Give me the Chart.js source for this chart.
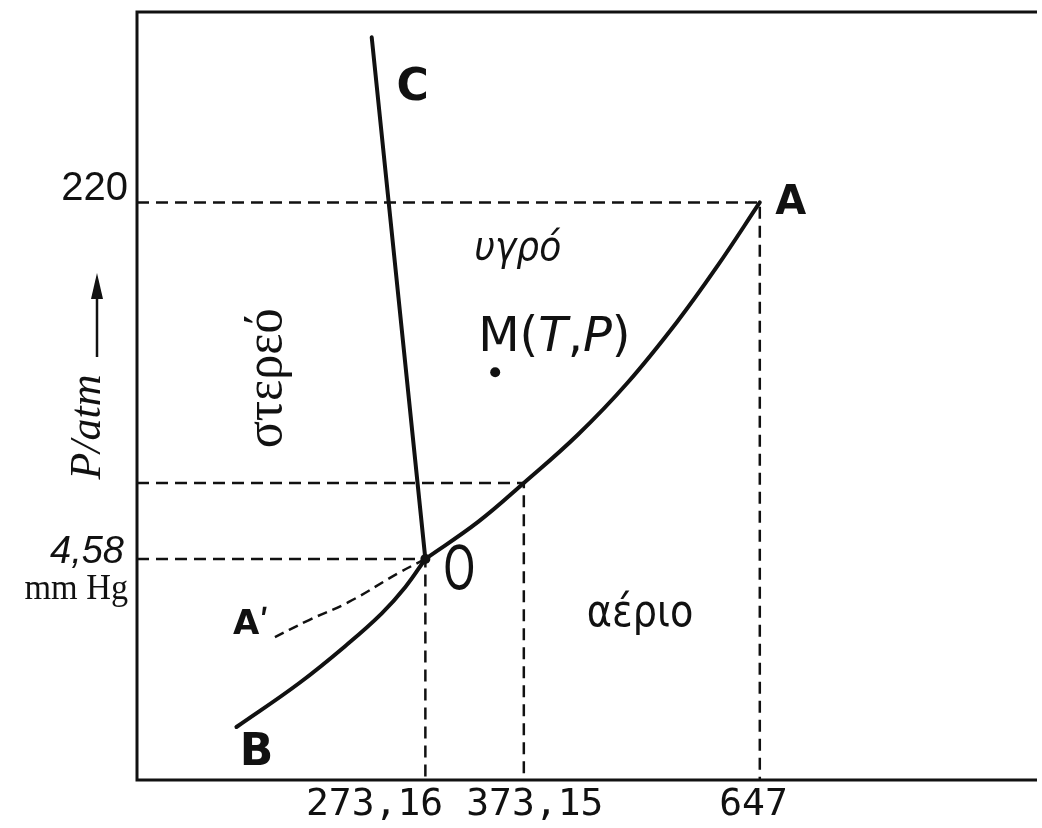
<!DOCTYPE html>
<html>
<head>
<meta charset="utf-8">
<title>Διάγραμμα φάσεων νερού</title>
<script src="https://cdn.jsdelivr.net/npm/chart.js@4.4.1/dist/chart.umd.min.js"></script>
<style>
    html, body { margin: 0; padding: 0; background: #fff; }
    #phaseChart { display: block; background: #fff; }
</style>
</head>
<body>
<canvas id="phaseChart" width="1042" height="828"></canvas>
<script>
// ============================================================
//  Phase diagram data (schematic units, 0-100 on both axes)
// ============================================================

// B -> O : sublimation curve
const sublimT = [11.05, 18.0, 23.5, 27.2, 29.8, 32.04];
const sublimP = [6.9, 12.6, 17.8, 21.7, 25.1, 28.78];

// O -> A : vaporization curve
const vapourT = [32.04, 37.9, 42.98, 48.95, 54.48, 60.0, 64.42, 69.2];
const vapourP = [28.78, 33.6, 38.67, 44.92, 51.69, 59.64, 66.8, 75.2];

// O -> C : fusion line
const fusionT = [32.04, 26.08];
const fusionP = [28.78, 96.7];

// O -> A' : supercooled liquid (dashed)
const metaT = [32.04, 29.06, 23.54, 19.12, 14.7];
const metaP = [28.78, 26.95, 23.18, 20.83, 18.23];

// triple point, normal boiling point, critical point
const refT = [32.04, 42.98, 69.2];
const refP = [28.78, 38.67, 75.2];

// state point M(T,P)
const stateT = [39.8];
const stateP = [53.1];

// tick labels (printed slightly off their guide lines)
const xTickLabels = ['273,16', '373,15', '647'];
const xTickPos = [26.4, 44.2, 68.5];
const yTickLabels = ['220', '4,58'];

const INK = '#111';

const toPoints = (xs, ys) => xs.map((x, i) => ({ x: x, y: ys[i] }));

// dashed guides: from the P axis across to the point, then down to the T axis
const guideSets = refT.map((t, i) => ({
    data: [{ x: 0, y: refP[i] }, { x: t, y: refP[i] }, { x: t, y: 0 }],
    borderColor: INK,
    borderWidth: 2.5,
    borderDash: [12, 7],
    pointRadius: 0,
    tension: 0,
}));

const curve = (xs, ys) => ({
    data: toPoints(xs, ys),
    borderColor: INK,
    borderWidth: 4,
    pointRadius: 0,
    tension: 0.4,
    borderCapStyle: 'round',
});

// ============================================================
//  Frame + text plugin
// ============================================================
function put(ctx, text, x, y, font, opts) {
    opts = opts || {};
    ctx.save();
    ctx.translate(x, y);
    if (opts.rot) ctx.rotate(opts.rot);
    if (opts.sx) ctx.scale(opts.sx, 1);
    ctx.font = font;
    ctx.fillStyle = INK;
    ctx.textAlign = opts.align || 'center';
    ctx.textBaseline = opts.base || 'middle';
    ctx.fillText(text, 0, 0);
    ctx.restore();
}

const phasePlugin = {
    id: 'phasePlugin',
    beforeDatasetsDraw(chart) {
        const { ctx, chartArea: a } = chart;
        ctx.save();
        ctx.strokeStyle = INK;
        ctx.lineWidth = 3;
        ctx.beginPath();
        ctx.moveTo(a.right, a.top);
        ctx.lineTo(a.left, a.top);
        ctx.lineTo(a.left, a.bottom);
        ctx.lineTo(a.right, a.bottom);
        ctx.stroke();
        ctx.restore();
    },
    afterDatasetsDraw(chart) {
        const { ctx, chartArea: a } = chart;
        const xs = chart.scales.x, ys = chart.scales.y;
        const px = v => xs.getPixelForValue(v);
        const py = v => ys.getPixelForValue(v);

        // x tick labels
        xTickLabels.forEach((lab, i) => {
            put(ctx, lab, px(xTickPos[i]), a.bottom + 25, '38px "DejaVu Sans Mono"');
        });

        // y tick labels
        put(ctx, yTickLabels[0], a.left - 9, py(refP[2]) - 13, '40px "Liberation Sans"', { align: 'right' });
        put(ctx, yTickLabels[1], a.left - 13, py(refP[0]) - 7, 'italic 38px "Liberation Sans"', { align: 'right' });
        put(ctx, 'mm Hg', a.left - 9, py(refP[0]) + 40, '36px "Liberation Serif"', { align: 'right', base: 'alphabetic', sx: 0.95 });

        // axis title P/atm with arrow (rotated)
        put(ctx, 'P/atm', 100, 427, 'italic 44px "Liberation Serif"', { rot: -Math.PI / 2, base: 'alphabetic' });
        ctx.save();
        ctx.strokeStyle = INK;
        ctx.fillStyle = INK;
        ctx.lineWidth = 2.5;
        ctx.beginPath();
        ctx.moveTo(97, 357);
        ctx.lineTo(97, 292);
        ctx.stroke();
        ctx.beginPath();
        ctx.moveTo(97, 273);
        ctx.lineTo(91, 299);
        ctx.lineTo(103, 299);
        ctx.closePath();
        ctx.fill();
        ctx.restore();

        // point letters
        const last = vapourT.length - 1;
        put(ctx, 'C', px(fusionT[1]) + 41, py(fusionP[1]) + 51, 'bold 44px "DejaVu Sans"');
        put(ctx, 'A', px(vapourT[last]) + 31, py(vapourP[last]) + 1, 'bold 40px "DejaVu Sans"');
        put(ctx, 'B', px(sublimT[0]) + 20, py(sublimP[0]) + 27, 'bold 44px "DejaVu Sans"');
        put(ctx, 'A\u02B9', px(metaT[metaT.length - 1]) - 18, py(metaP[metaP.length - 1]) - 15, 'bold 34px "DejaVu Sans"');
        put(ctx, 'O', px(refT[0]) + 34, py(refP[0]) + 14, '60px "DejaVu Sans"', { sx: 0.68 });

        // region names
        put(ctx, 'υγρό', px(42.3), py(69.0), 'italic 40px "DejaVu Sans"', { sx: 0.9 });
        put(ctx, 'αέριο', px(55.9), py(21.6), '45px "DejaVu Sans"', { sx: 0.85 });
        put(ctx, 'στερεό', px(14.5), py(52.3), '53px "Liberation Serif"', { rot: -Math.PI / 2, sx: 0.95 });

        // M(T,P) label next to the state point
        let mx = px(stateT[0]) - 17;
        const my = py(stateP[0]) - 21;
        const parts = [['M(', '48px "DejaVu Sans"'], ['T', 'italic 48px "DejaVu Sans"'], [',', '48px "DejaVu Sans"'],
                       ['P', 'italic 48px "DejaVu Sans"'], [')', '48px "DejaVu Sans"']];
        parts.forEach(([s, f]) => {
            put(ctx, s, mx, my, f, { align: 'left', base: 'alphabetic' });
            ctx.font = f;
            mx += ctx.measureText(s).width;
        });
    }
};

// ============================================================
//  Chart
// ============================================================
const ctx = document.getElementById('phaseChart').getContext('2d');

new Chart(ctx, {
    type: 'line',
    data: {
        datasets: [
            {
                // triple point dot
                data: toPoints([refT[0]], [refP[0]]),
                showLine: false,
                pointRadius: 5,
                pointBackgroundColor: INK,
                pointBorderWidth: 0,
            },
            {
                data: toPoints(stateT, stateP),
                showLine: false,
                pointRadius: 5,
                pointBackgroundColor: INK,
                pointBorderWidth: 0,
            },
            curve(sublimT, sublimP),
            curve(vapourT, vapourP),
            curve(fusionT, fusionP),
            {
                data: toPoints(metaT, metaP),
                borderColor: INK,
                borderWidth: 2.5,
                borderDash: [10, 6],
                pointRadius: 0,
                tension: 0.4,
            },
            ...guideSets,
        ]
    },
    options: {
        responsive: false,
        animation: false,
        clip: false,
        layout: { padding: { left: 137, top: 12, right: 0, bottom: 48 } },
        plugins: {
            legend: { display: false },
            tooltip: { enabled: false },
        },
        scales: {
            x: { type: 'linear', min: 0, max: 100, display: false },
            y: { type: 'linear', min: 0, max: 100, display: false },
        }
    },
    plugins: [phasePlugin]
});
</script>
</body>
</html>
